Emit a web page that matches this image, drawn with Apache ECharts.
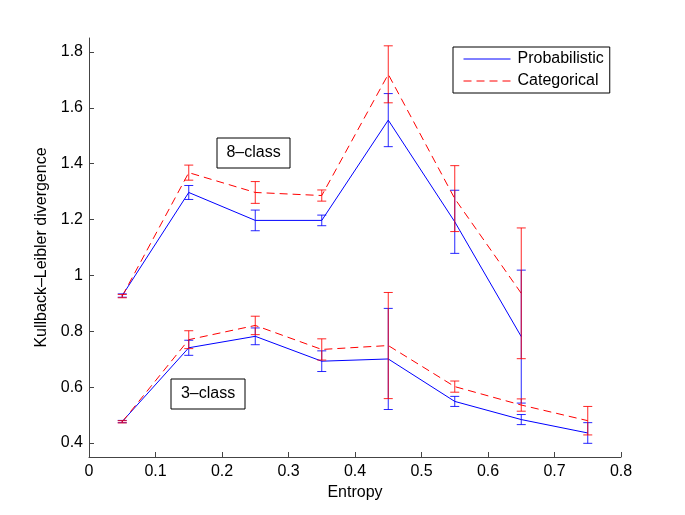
<!DOCTYPE html>
<html>
<head>
<meta charset="utf-8">
<script src="https://cdn.jsdelivr.net/npm/echarts@6/dist/echarts.min.js"></script>
<style>html,body{margin:0;padding:0;background:#fff}#chart{width:685px;height:515px}</style>
</head>
<body>
<div id="chart"></div>
<script>
var entropy8 = [0.05, 0.15, 0.25, 0.35, 0.45, 0.55, 0.65];
var entropy3 = [0.05, 0.15, 0.25, 0.35, 0.45, 0.55, 0.65, 0.75];
var prob8 = [0.928, 1.297, 1.197, 1.197, 1.556, 1.192, 0.781];
var prob8Err = [0.006, 0.025, 0.037, 0.019, 0.095, 0.113, 0.238];
var cat8 = [0.926, 1.368, 1.297, 1.286, 1.72, 1.275, 0.936];
var cat8Err = [0.006, 0.027, 0.039, 0.020, 0.102, 0.118, 0.234];
var prob3 = [0.477, 0.741, 0.782, 0.693, 0.701, 0.549, 0.484, 0.436];
var prob3Err = [0.004, 0.027, 0.030, 0.037, 0.181, 0.018, 0.018, 0.037];
var cat3 = [0.476, 0.770, 0.821, 0.735, 0.749, 0.602, 0.536, 0.480];
var cat3Err = [0.004, 0.032, 0.033, 0.038, 0.190, 0.020, 0.022, 0.051];
var yTicks = [0.4, 0.6, 0.8, 1, 1.2, 1.4, 1.6, 1.8];
var seriesNames = ['Probabilistic', 'Categorical'];

var BLUE = '#0000ff', RED = '#ff0000';
var FONT = '"Liberation Sans", Helvetica, Arial, sans-serif';
var FS = 16;

function pairs(xs, ys) { return xs.map(function (x, i) { return [x, ys[i]]; }); }
function errs(xs, ys, es) { return xs.map(function (x, i) { return [x, ys[i] - es[i], ys[i] + es[i]]; }); }

function errRender(color) {
  return function (params, api) {
    var x = api.value(0);
    var lo = api.coord([x, api.value(1)]);
    var hi = api.coord([x, api.value(2)]);
    var w = 4.5;
    var st = { stroke: color, lineWidth: 1, opacity: 0.85 };
    return {
      type: 'group',
      children: [
        { type: 'line', shape: { x1: hi[0], y1: hi[1], x2: lo[0], y2: lo[1] }, style: st },
        { type: 'line', shape: { x1: hi[0] - w, y1: hi[1], x2: hi[0] + w, y2: hi[1] }, style: st },
        { type: 'line', shape: { x1: lo[0] - w, y1: lo[1], x2: lo[0] + w, y2: lo[1] }, style: st }
      ]
    };
  };
}

function lineSeries(name, data, color, dashed) {
  return {
    type: 'line', name: name, data: data, symbol: 'none', showSymbol: false,
    lineStyle: { color: color, width: 1, type: dashed ? [8, 5] : 'solid' },
    itemStyle: { color: color }, silent: true, z: 2
  };
}
function errSeries(data, color) {
  return { type: 'custom', name: 'err', data: data, renderItem: errRender(color), silent: true, z: 3 };
}

var chart = echarts.init(document.getElementById('chart'), null, { renderer: 'canvas' });
chart.setOption({
  animation: false,
  backgroundColor: '#fff',
  textStyle: { fontFamily: FONT },
  grid: { left: 89, top: 38, right: 64, bottom: 58, containLabel: false },
  legend: {
    data: seriesNames,
    orient: 'vertical',
    left: 453, top: 47,
    padding: [4, 6, 4, 10],
    itemWidth: 47, itemHeight: 15, itemGap: 6,
    borderColor: '#000', borderWidth: 1, backgroundColor: '#fff',
    itemStyle: { opacity: 0, borderWidth: 0 },
    lineStyle: { width: 1 },
    textStyle: { fontFamily: FONT, fontSize: FS, color: '#000', padding: [0, 0, 0, 2] }
  },
  xAxis: {
    type: 'value', min: 0, max: 0.8, interval: 0.1,
    name: 'Entropy', nameLocation: 'middle', nameGap: 28,
    nameTextStyle: { fontFamily: FONT, fontSize: FS, color: '#000' },
    axisLine: { show: true, lineStyle: { color: '#444', width: 1 } },
    axisTick: { show: true, inside: true, length: 5, lineStyle: { color: '#444' } },
    axisLabel: { fontFamily: FONT, fontSize: FS, color: '#000', margin: 7 },
    splitLine: { show: false }
  },
  yAxis: {
    type: 'value', min: 0.35, max: 1.85,
    name: 'Kullback\u2013Leibler divergence', nameLocation: 'middle', nameGap: 37, nameRotate: 90,
    nameTextStyle: { fontFamily: FONT, fontSize: FS, color: '#000' },
    axisLine: { show: true, lineStyle: { color: '#444', width: 1 } },
    axisTick: { show: true, inside: true, length: 5, customValues: yTicks, lineStyle: { color: '#444' } },
    axisLabel: { fontFamily: FONT, fontSize: FS, color: '#000', margin: 6, customValues: yTicks,
      formatter: function (v) { return String(Math.round(v * 10) / 10); } },
    splitLine: { show: false }
  },
  graphic: [
    { type: 'rect', shape: { x: 217, y: 138, width: 73, height: 30 }, style: { fill: '#fff', stroke: '#000', lineWidth: 1 }, z: 10 },
    { type: 'text', x: 253.5, y: 153, style: { text: '8\u2013class', fontFamily: FONT, fontSize: FS, fill: '#000', align: 'center', verticalAlign: 'middle' }, z: 11 },
    { type: 'rect', shape: { x: 171, y: 379, width: 74, height: 30 }, style: { fill: '#fff', stroke: '#000', lineWidth: 1 }, z: 10 },
    { type: 'text', x: 208, y: 394, style: { text: '3\u2013class', fontFamily: FONT, fontSize: FS, fill: '#000', align: 'center', verticalAlign: 'middle' }, z: 11 }
  ],
  series: [
    lineSeries(seriesNames[0], pairs(entropy8, prob8), BLUE, false),
    lineSeries(seriesNames[0], pairs(entropy3, prob3), BLUE, false),
    errSeries(errs(entropy8, prob8, prob8Err), BLUE),
    errSeries(errs(entropy3, prob3, prob3Err), BLUE),
    lineSeries(seriesNames[1], pairs(entropy8, cat8), RED, true),
    lineSeries(seriesNames[1], pairs(entropy3, cat3), RED, true),
    errSeries(errs(entropy8, cat8, cat8Err), RED),
    errSeries(errs(entropy3, cat3, cat3Err), RED)
  ]
});
</script>
</body>
</html>
